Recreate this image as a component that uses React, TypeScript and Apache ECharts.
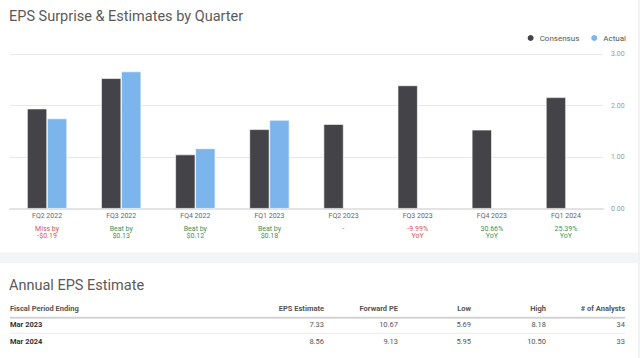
import React, { useEffect, useRef } from "react";
import * as echarts from "echarts";

const quarters = ["FQ2 2022", "FQ3 2022", "FQ4 2022", "FQ1 2023", "FQ2 2023", "FQ3 2023", "FQ4 2023", "FQ1 2024"];
const consensus = [1.94, 2.53, 1.05, 1.54, 1.64, 2.39, 1.53, 2.16];
const actual: (number | null)[] = [1.75, 2.66, 1.17, 1.72, null, null, null, null];
const noteLine1 = ["Miss by", "Beat by", "Beat by", "Beat by", "-", "-9.99%", "30.66%", "25.39%"];
const noteLine2 = ["-$0.19", "$0.13", "$0.12", "$0.18", "", "YoY", "YoY", "YoY"];
const noteTone = ["neg", "pos", "pos", "pos", "neg", "neg", "pos", "pos"];
const yTicks = [0, 1, 2, 3];

const tableHeaders = ["Fiscal Period Ending", "EPS Estimate", "Forward PE", "Low", "High", "# of Analysts"];
const periods = ["Mar 2023", "Mar 2024"];
const epsEstimate = ["7.33", "8.56"];
const forwardPE = ["10.67", "9.13"];
const lowEst = ["5.69", "5.95"];
const highEst = ["8.18", "10.50"];
const analysts = ["34", "33"];

const FONT = "Roboto, 'Noto Sans', sans-serif";
const RED = "#d4544a";
const GREEN = "#329664";

export default function App() {
  const ref = useRef<HTMLDivElement>(null);
  useEffect(() => {
    if (!ref.current) return;
    const chart = echarts.init(ref.current, undefined, { renderer: "svg" });

    const colRight = [0, 324, 398, 471, 546, 625];
    const headerY = 308;
    const rowY = [324.5, 341];
    const tableCols = [periods, epsEstimate, forwardPE, lowEst, highEst, analysts];

    const graphics: any[] = [
      { type: "rect", shape: { x: 0, y: 252.5, width: 640, height: 10.5 }, style: { fill: "#f3f4f6" }, silent: true },
      { type: "rect", shape: { x: 638, y: 0, width: 2, height: 358 }, style: { fill: "#f1f2f4" }, silent: true },
      {
        type: "text",
        x: 9,
        y: 285,
        style: { text: "Annual EPS Estimate", fill: "#5a5a5a", font: `14.5px ${FONT}`, verticalAlign: "middle" },
      },
      { type: "line", shape: { x1: 10, y1: 317.7, x2: 625, y2: 317.7 }, style: { stroke: "#d2d2d2", lineWidth: 2 } },
      { type: "line", shape: { x1: 10, y1: 333.3, x2: 625, y2: 333.3 }, style: { stroke: "#ececec", lineWidth: 1 } },
    ];
    tableHeaders.forEach((h, i) => {
      graphics.push({
        type: "text",
        x: i === 0 ? 10 : colRight[i],
        y: headerY,
        style: {
          text: h,
          fill: "#555",
          font: `bold 7.5px ${FONT}`,
          align: i === 0 ? "left" : "right",
          verticalAlign: "middle",
        },
      });
    });
    tableCols.forEach((col, ci) => {
      col.forEach((v, ri) => {
        graphics.push({
          type: "text",
          x: ci === 0 ? 10 : colRight[ci],
          y: rowY[ri],
          style: {
            text: v,
            fill: ci === 0 ? "#333" : "#555",
            font: `${ci === 0 ? "bold " : ""}7.5px ${FONT}`,
            align: ci === 0 ? "left" : "right",
            verticalAlign: "middle",
          },
        });
      });
    });

    chart.setOption({
      animation: false,
      backgroundColor: "#fff",
      title: {
        text: "EPS Surprise & Estimates by Quarter",
        left: 9,
        top: 9,
        padding: 0,
        textStyle: { fontFamily: FONT, fontSize: 14.5, fontWeight: "normal", color: "#5a5a5a" },
      },
      legend: {
        right: 14,
        top: 33,
        padding: 0,
        icon: "circle",
        itemWidth: 8,
        itemHeight: 8,
        itemGap: 10,
        textStyle: { fontFamily: FONT, fontSize: 8, color: "#555" },
        data: ["Consensus", "Actual"],
      },
      grid: { left: 10, right: 37, top: 54, bottom: 149.3 },
      xAxis: {
        type: "category",
        data: quarters,
        axisTick: { show: false },
        axisLine: { lineStyle: { color: "#e3e3e3", width: 2 } },
        axisLabel: {
          interval: 0,
          margin: 3,
          fontFamily: FONT,
          formatter: (val: string, idx: number) => {
            const tone = noteTone[idx];
            let s = `{cat|${val}}\n{sp| }\n{${tone}|${noteLine1[idx]}}`;
            if (noteLine2[idx]) s += `\n{${tone}|${noteLine2[idx]}}`;
            return s;
          },
          rich: {
            cat: { fontFamily: FONT, fontSize: 7, color: "#666", lineHeight: 9 },
            sp: { fontSize: 1, lineHeight: 5 },
            neg: { fontFamily: FONT, fontSize: 7, color: RED, lineHeight: 7 },
            pos: { fontFamily: FONT, fontSize: 7, color: GREEN, lineHeight: 7 },
          },
        },
      },
      yAxis: {
        type: "value",
        position: "right",
        min: yTicks[0],
        max: yTicks[yTicks.length - 1],
        interval: 1,
        axisLine: { show: false },
        axisTick: { show: false },
        axisLabel: {
          margin: 8,
          fontFamily: FONT,
          fontSize: 7,
          color: "#999",
          formatter: (v: number) => v.toFixed(2),
        },
        splitLine: { lineStyle: { color: "#e8e8e8", width: 1 } },
      },
      series: [
        {
          name: "Consensus",
          type: "bar",
          data: consensus,
          barWidth: 20,
          barGap: "0%",
          itemStyle: { color: "#434348", borderColor: "#fff", borderWidth: 0.6 },
        },
        {
          name: "Actual",
          type: "bar",
          data: actual,
          barWidth: 20,
          barGap: "0%",
          itemStyle: { color: "#7cb5ec", borderColor: "#fff", borderWidth: 0.6 },
        },
      ],
      graphic: graphics,
    });
    return () => chart.dispose();
  }, []);
  return <div ref={ref} style={{ position: "fixed", left: 0, top: 0, width: 640, height: 358 }} />;
}
